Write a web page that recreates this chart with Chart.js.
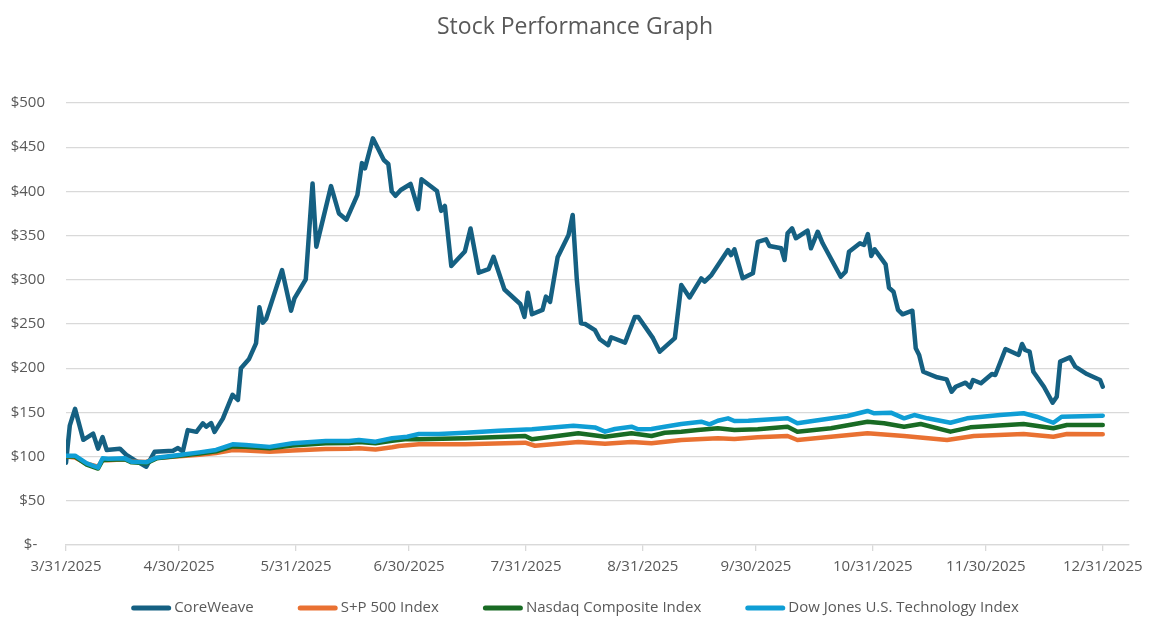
<!DOCTYPE html>
<html>
<head>
<meta charset="utf-8">
<script src="https://cdn.jsdelivr.net/npm/chart.js@4.4.1/dist/chart.umd.min.js"></script>
<style>
html,body{margin:0;padding:0;background:#fff}
#wrap{width:1150px;height:625px;position:relative}
</style>
</head>
<body>
<div id="wrap"><canvas id="c"></canvas></div>
<script>
// x positions are days since 3/31/2025
const titleText = 'Stock Performance Graph';
const tickDays = [0, 30, 61, 91, 122, 153, 183, 214, 244, 275];
const tickLabels = ['3/31/2025','4/30/2025','5/31/2025','6/30/2025','7/31/2025','8/31/2025','9/30/2025','10/31/2025','11/30/2025','12/31/2025'];
const seriesNames = ['CoreWeave','S+P 500 Index','Nasdaq Composite Index','Dow Jones U.S. Technology Index'];

const cwDays = [
  0,1,2.4,4.6,7.2,8.5,9.7,10.8,14.3,16,
  18.2,21.3,23.5,28.4,29.7,31,32.3,34.6,36.3,37.2,
  38.5,39.4,41.6,44.2,45.6,46.4,48.5,50.4,51.3,52.2,
  53.1,57.3,59.7,60.6,63.6,65.4,66.4,70.3,72.4,74.4,
  77.3,78.5,79.3,81.4,84.3,85.5,86.4,87.4,88.8,91.4,
  93.4,94.3,98.4,99.5,100.5,102.2,105.8,107.3,109.5,112.1,
  113.4,116.3,120.5,121.6,122.5,123.6,126.4,127.3,128.4,130.4,
  133.3,134.4,135.5,136.6,137.7,140.3,141.6,143.8,144.6,148.3,
  150.9,151.8,155.7,157.5,161.5,163.2,165.4,168.5,169.4,171.2,
  175.6,176.4,177.3,179.5,182.2,183.5,185.7,186.6,189.7,190.6,
  191.4,192.6,193.6,196.7,197.6,199.4,200.7,205.5,206.8,207.7,
  210.6,211.7,212.7,213.6,214.5,217.4,218.3,219.5,220.7,221.9,
  224.5,225.4,226.3,227.4,231.1,233.6,234.9,236,238.6,239.8,
  240.6,242.7,245.6,246.5,249.2,252.7,253.6,254.4,255.6,256.6,
  259.4,260.6,261.7,262.8,263.7,266.3,267.7,270.8,274.3,275
];
const cwValues = [
  93,135,154,119,126,109,122,107.5,109,102,
  96,88.6,105.5,106.7,109.7,106,130,128,137.7,133.8,
  138,128,143,170,164,200,210,228,269,251.5,
  256,311,265,279,300.5,409,337.5,406,375,368,
  396,432,426,460,435.5,431,400,395,401.6,408.4,
  380,413.7,400.5,378,383.5,315.6,332,358,308,312,
  326,289,272.6,258,285.4,261,266,281,275,325.4,
  350.7,373.3,300,250.8,250,243,232.7,226,235,229,
  258,258,234,218.7,234,294,280,301.7,298,305.4,
  333.7,328,334.5,301.7,307.3,343,345.8,338.2,335.6,322.4,
  352.6,358.2,347,355.6,335.6,354.4,341.3,303.5,309.2,331.8,
  341.3,339.4,351.8,327,334.5,317.5,291,286.5,266,261,
  265,222.5,215,196,189.7,187.4,173.4,179,183.6,178.4,
  186.7,183,193.4,192.3,221.7,215,227.4,220.6,218.7,196,
  179,169.7,161,167.8,207.4,212.3,201.7,193.4,186.7,179
];

const spDays = [
  0,2.4,5.5,8.5,9.7,11.2,15.6,17.4,21.3,24,
  30,35.4,39.8,44.2,47.7,54,60.1,68.9,75.1,77.7,
  82.1,86.5,88.3,93.6,105.9,121.8,124.4,135.9,143,150,
  155.3,163.2,172.9,177.3,183.5,191.4,194,202.9,212.6,222.3,
  233.7,240.8,254,261.9,265.5,275
];
const spValues = [
  100,99,92,88.5,96.5,96,97,94.5,94,98.5,
  100.5,102,104,107.5,107,105.5,107,108.5,109,109.5,
  108,110.5,112,113.9,113.9,115.7,112.3,116.5,114.6,116.5,
  115,118.8,120.7,119.9,121.8,123.3,118.8,122.5,126.4,123.3,
  118.8,123.3,125.6,122.5,125.6,125.2
];

const nqDays = [
  0,2.4,5.5,8.5,9.7,11.2,15.6,17.4,21.3,24,
  30,35.4,39.8,44.2,47.7,54,60.1,68.9,75.1,77.7,
  82.1,86.5,90.5,93.6,105.9,121.8,123.6,135.9,143,150,
  155.3,158.8,163.2,167.6,172.9,177.3,183.5,191.4,194,202.9,
  212.6,217,222.3,226.7,234.6,239.9,254,261.9,265.5,275
];
const nqValues = [
  100,100,91,86.5,96,96.5,97,93.5,92.5,98,
  101,103.5,106,111.5,111,109.5,112.5,115,115.5,116.5,
  115,118,120,119.6,120.7,123.3,119.6,126.4,122.5,126.4,
  123.3,127,128.2,130,132,130,130.9,133.8,128.2,132,
  139.5,137.7,133.8,136.9,128.2,133.1,136.9,132,135.7,135.7
];

const djDays = [
  0,2.4,5.5,8.5,9.7,11.2,15.6,17.4,21.3,24,
  30,35.4,39.8,44.2,47.7,54,60.1,68.9,75.1,77.7,
  82.1,86.5,90.5,93.6,98.9,105.9,114.8,123.6,129.8,134.6,
  140.3,143,145.6,150,151.8,155.3,158.8,163.2,168.5,170.7,
  172.9,175.6,177.3,181,191.4,194,198.5,207.3,212.6,214.4,
  218.8,222.3,225,228.5,234.6,239,247.8,254,257.5,261.9,
  264.1,275
];
const djValues = [
  101,101,92.4,87.5,98,97.7,98,94.2,93.5,98.8,
  101.8,104.8,107.5,113.9,113,111,115,117.6,117.6,118.8,
  116.9,120.7,122.5,125.6,125.6,127,129.3,130.9,133.1,135,
  133,128.2,131.2,133.8,130.9,131.2,133.8,136.9,139.5,136.5,
  140.6,143.3,140.3,140.5,143.3,137.7,140.6,145.9,151.6,149,
  149.7,143.3,147,143.3,138.3,143.3,147,149,145.1,138.3,
  145.1,146.3
];

const colors = ['#156082','#E97132','#196B24','#0F9ED5'];
const FONT = "'Open Sans', 'Liberation Sans', sans-serif";
const TEXT = '#595959';
const toPts = (d, v) => d.map((x, i) => ({x: x, y: v[i]}));
const allDays = [cwDays, spDays, nqDays, djDays];
const allVals = [cwValues, spValues, nqValues, djValues];

const datasets = seriesNames.map((name, i) => ({
  label: name,
  data: toPts(allDays[i], allVals[i]),
  borderColor: colors[i],
  backgroundColor: colors[i],
  borderWidth: 4.5,
  borderJoinStyle: 'round',
  borderCapStyle: 'round',
  pointRadius: 0,
  pointHoverRadius: 0,
  tension: 0,
  fill: false,
  order: 4 - i
}));

// Title and legend drawn centred on the full canvas width
const titleLegendPlugin = {
  id: 'titleLegend',
  afterDraw(chart) {
    const ctx = chart.ctx;
    const cx = chart.width / 2;
    ctx.save();
    ctx.fillStyle = TEXT;
    ctx.textBaseline = 'middle';
    ctx.textAlign = 'center';
    ctx.font = '23px ' + FONT;
    ctx.fillText(titleText, cx, 27);

    ctx.font = '15px ' + FONT;
    ctx.textAlign = 'left';
    const sw = 40, gapText = 3, gapItem = 44;
    const widths = seriesNames.map(n => ctx.measureText(n).width);
    const total = widths.reduce((a, w) => a + sw + gapText + w, 0) + gapItem * (seriesNames.length - 1);
    let x = cx - total / 2;
    const y = chart.chartArea.bottom + 63;
    seriesNames.forEach((n, i) => {
      ctx.strokeStyle = colors[i];
      ctx.lineWidth = 5;
      ctx.lineCap = 'round';
      ctx.beginPath();
      ctx.moveTo(x + 2.5, y);
      ctx.lineTo(x + sw - 2.5, y);
      ctx.stroke();
      ctx.fillStyle = TEXT;
      ctx.fillText(n, x + sw + gapText, y);
      x += sw + gapText + widths[i] + gapItem;
    });
    ctx.restore();
  }
};

new Chart(document.getElementById('c'), {
  type: 'line',
  data: { datasets: datasets },
  plugins: [titleLegendPlugin],
  options: {
    responsive: true,
    maintainAspectRatio: false,
    animation: false,
    layout: { padding: { left: 0, right: 18, top: 103, bottom: 35 } },
    plugins: {
      title: { display: false },
      legend: { display: false },
      tooltip: { enabled: false }
    },
    scales: {
      x: {
        type: 'linear',
        min: 0,
        max: 282,
        afterBuildTicks: (s) => { s.ticks = tickDays.map(v => ({ value: v })); },
        afterFit: (s) => { s.height = 45; },
        ticks: {
          autoSkip: false,
          maxRotation: 0,
          minRotation: 0,
          padding: 7,
          color: TEXT,
          font: { family: FONT, size: 15 },
          callback: (v, i) => tickLabels[i]
        },
        grid: { drawOnChartArea: false, drawTicks: true, tickLength: 6, color: '#d9d9d9', lineWidth: 1.3 },
        border: { display: true, color: '#d9d9d9', width: 1.3 }
      },
      y: {
        min: 0,
        max: 500,
        afterFit: (s) => { s.width = 66; },
        ticks: {
          stepSize: 50,
          padding: 21,
          color: TEXT,
          font: { family: FONT, size: 15 },
          callback: (v) => v === 0 ? '$-  ' : '$' + v
        },
        grid: { color: '#d9d9d9', lineWidth: 1.3, drawTicks: false },
        border: { display: false }
      }
    }
  }
});
</script>
</body>
</html>
